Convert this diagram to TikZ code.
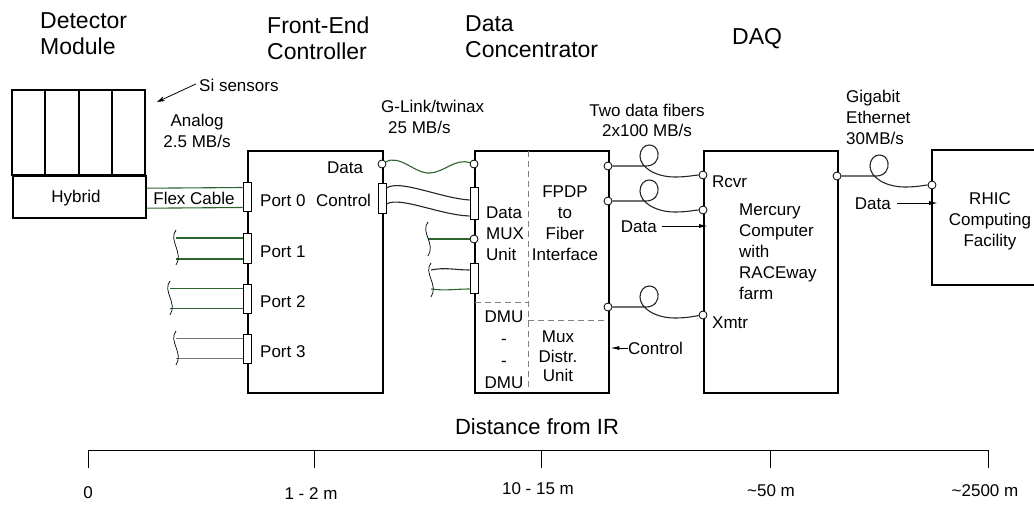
\documentclass[tikz,border=0pt]{standalone}
\usepackage{fontspec}
\setmainfont{Liberation Sans}
\usetikzlibrary{arrows.meta,calc}
\definecolor{wgreen}{RGB}{45,100,45}
\definecolor{wgray}{RGB}{115,115,115}
\newcommand\fsA{\fontsize{23}{26}\selectfont}
\newcommand\fsB{\fontsize{17}{21}\selectfont}
\newcommand\fiberloop[4]{%
  \draw[wire] (#1) -- ({#3+6},#4) .. controls ({#3+15},#4) and ({#3+19},{#4-7}) .. ({#3+18},{#4-13})
    .. controls ({#3+17},{#4-19}) and ({#3+13},{#4-21}) .. ({#3+9},{#4-21})
    .. controls ({#3+4},{#4-21}) and ({#3},{#4-16}) .. ({#3},{#4-10})
    .. controls ({#3},{#4+1}) and ({#3+15},{#4+11}) .. ({#3+35},{#4+11})
    .. controls ({#3+48},{#4+11}) and ({#3+55},{#4+9}) .. (#2);}
\newcommand\squig[3]{%
  \draw[line width=0.7pt] (#1,#2) .. controls +(-8,10) and +(8,-12) .. (#1,#3);}
\begin{document}
\begin{tikzpicture}[x=1pt,y=-1pt,
  box/.style={draw, line width=2.4pt, inner sep=0, anchor=north west},
  jack/.style={circle, draw, fill=white, line width=0.8pt, minimum size=8pt, inner sep=0},
  portrect/.style={rectangle, draw, fill=white, line width=0.9pt, minimum width=8pt, inner sep=0},
  ttl/.style={font=\fsA, inner sep=0, align=left},
  lbl/.style={font=\fsB, inner sep=0},
  wire/.style={line width=1.1pt, black!85},
  arr/.style={line width=0.9pt, -{Latex[length=9pt,width=4pt]}},
  dsh/.style={line width=0.8pt, gray, dash pattern=on 6pt off 4pt}]
\useasboundingbox (0,0) rectangle (1034,504);
\fill[white] (0,0) rectangle (1034,504);

% titles
\node[ttl, anchor=north west] (tdm) at (40,12) {Detector\\Module};
\node[ttl, anchor=north west] (tfec) at (267,17) {Front-End\\Controller};
\node[ttl, anchor=north west] (tdc) at (465,15) {Data\\Concentrator};
\node[ttl, anchor=base west] (tdaq) at (732,44) {DAQ};

% detector module
\draw[line width=1.6pt] (12,90) rectangle (145,175);
\foreach \xx in {45,79,112} \draw[line width=1.6pt] (\xx,90) -- (\xx,175);
\node[box, minimum width=133pt, minimum height=42pt] (hyb) at (12,175) {};
\node[lbl, anchor=base] (hybt) at (76,202) {Hybrid};
\node[lbl, anchor=base west] (si) at (199,91) {Si sensors};
\coordinate (sitip) at (157,102);
\draw[line width=0.8pt, -{Stealth[length=8pt,width=5pt]}] ([xshift=-3pt,yshift=1pt]si.west) -- (sitip);
\node[lbl, anchor=north, align=center] (analog) at (197,114) {Analog\\2.5 MB/s};

% boxes
\node[box, minimum width=135pt, minimum height=242pt] (fec) at (247,150) {};
\node[box, minimum width=134pt, minimum height=242pt] (dc) at (474,150) {};
\node[box, minimum width=134pt, minimum height=242pt] (merc) at (703,150) {};
\node[inner sep=0, minimum width=110pt, minimum height=135pt, anchor=north west] (rhic) at (932,150) {};
\draw[line width=2.4pt] (1040,150) -- (932,150) -- (932,285) -- (1040,285);

% ports
\node[portrect, minimum height=29pt] (p0) at (247,196.5) {};
\node[portrect, minimum height=30pt] (p1) at (247,248) {};
\node[portrect, minimum height=29pt] (p2) at (247,298.5) {};
\node[portrect, minimum height=29pt] (p3) at (247,348.5) {};
\node[portrect, minimum height=30pt] (fecctl) at (382,198) {};
\node[portrect, minimum height=32pt] (dcctl) at (474,203) {};
\node[portrect, minimum height=30pt] (dcp2) at (474,278) {};

% jacks
\node[jack] (fecdata) at (382,164) {};
\node[jack] (dcdata) at (474,164) {};
\node[jack] (dcin) at (474,239) {};
\node[jack] (dco1) at (608,166) {};
\node[jack] (dco2) at (608,201) {};
\node[jack] (dco3) at (608,307) {};
\node[jack] (mi1) at (703,175) {};
\node[jack] (mi2) at (703,210) {};
\node[jack] (mx) at (703,315) {};
\node[jack] (mo) at (837,176) {};
\node[jack] (ri) at (932,185) {};

% flex cable
\draw[wire, wgreen] ([yshift=9pt]hyb.east) -- ([yshift=9pt]p0.west);
\draw[wire, wgreen] ([yshift=-11pt]hyb.east) -- ([yshift=-11pt]p0.west);
\node[lbl, anchor=base] (flex) at (194,204) {Flex Cable};

% port cables
\coordinate (s1) at (176,248);
\coordinate (s2) at (170,298.5);
\coordinate (s3) at (176,348.5);
\draw[wire, wgreen] ([yshift=10pt]s1) -- ([yshift=10pt]p1.west);
\draw[wire, wgreen] ([yshift=-11pt]s1) -- ([yshift=-11pt]p1.west);
\squig{176}{230}{265}
\draw[wire, wgreen] ([yshift=10pt]s2) -- ([yshift=10pt]p2.west);
\draw[wire, wgreen] ([yshift=-10pt]s2) -- ([yshift=-10pt]p2.west);
\squig{170}{281}{315}
\draw[wire, wgray] ([yshift=10pt]s3) -- ([yshift=10pt]p3.west);
\draw[wire, wgray] ([yshift=-10pt]s3) -- ([yshift=-10pt]p3.west);
\squig{176}{331}{365}

% port labels
\node[lbl, anchor=base west] (lp0) at (260,206) {Port 0};
\node[lbl, anchor=base west] (lp1) at (260,257) {Port 1};
\node[lbl, anchor=base west] (lp2) at (260,307) {Port 2};
\node[lbl, anchor=base west] (lp3) at (260,357) {Port 3};
\node[lbl, anchor=base west] (lfd) at (327,173) {Data};
\node[lbl, anchor=base west] (lfc) at (316,206) {Control};

% FEC -> DC
\draw[wire, wgreen] (fecdata) .. controls (400,154) and (415,174) .. (430,173) .. controls (445,172) and (455,158) .. (dcdata);
\draw[wire] ([yshift=10pt]fecctl.east) .. controls (400,179) and (440,198) .. ([yshift=3pt]dcctl.west);
\draw[wire] ([yshift=-6pt]fecctl.east) .. controls (400,196) and (440,215) .. ([yshift=-13pt]dcctl.west);
\node[lbl, anchor=north west, align=left] (glink) at (381,100) {G-Link/twinax\\\hspace*{7pt}25 MB/s};

% DC inputs
\coordinate (s5) at (428,239);
\draw[wire, wgreen] (s5) -- (dcin);
\squig{428}{222}{256}
\coordinate (s6) at (431,278);
\draw[wire] ([yshift=8pt]s6) .. controls +(15,-3) and +(-15,0) .. ([yshift=8pt]dcp2.west);
\draw[wire, wgreen] ([yshift=-11pt]s6) .. controls +(15,2) and +(-15,0) .. ([yshift=-11pt]dcp2.west);
\squig{431}{263}{297}

% DC internals
\draw[dsh] (528,151) -- (528,391);
\draw[dsh] (475,302) -- (528,302);
\draw[dsh] (528,320) -- (607,320);
\node[lbl, anchor=north west, align=left] (dmux) at (486,207) {Data\\MUX\\Unit};
\node[lbl, anchor=north, align=center] (fpdp) at (565,186) {FPDP\\to\\Fiber\\Interface};
\node[lbl, anchor=north, align=center, font=\fontsize{17}{21.7}\selectfont] (dmu) at (504,311) {DMU\\-\\-\\DMU};
\node[lbl, anchor=north, align=center, font=\fontsize{17}{19.5}\selectfont] (mdu) at (558,331) {Mux\\Distr.\\Unit};

% fibers
\fiberloop{dco1}{mi1}{640}{166}
\fiberloop{dco2}{mi2}{640}{201}
\fiberloop{dco3}{mx}{640}{307}
\node[lbl, anchor=north, align=center, font=\fontsize{17}{20}\selectfont] (tdf) at (647,104) {Two data fibers\\2x100 MB/s};
\node[lbl, anchor=base east] (ldata1) at (657,232) {Data};
\draw[arr] ([xshift=5pt,yshift=6pt]ldata1.base east) -- ([xshift=5pt,yshift=6pt]ldata1.base east -| merc.west);
\node[lbl, anchor=base west] (lctl) at (628,354) {Control};
\draw[arr] ([yshift=6pt]lctl.base west) -- ([yshift=6pt]lctl.base west -| dc.east);

% Mercury
\node[lbl, anchor=base west] (rcvr) at (712,187) {Rcvr};
\node[lbl, anchor=north west, align=left, font=\fontsize{17}{20.8}\selectfont] (mtext) at (739,204) {Mercury\\Computer\\with\\RACEway\\farm};
\node[lbl, anchor=base west] (xmtr) at (712,328) {Xmtr};

% Ethernet
\fiberloop{mo}{ri}{870}{176}
\node[lbl, anchor=north west, align=left] (geth) at (846,90) {Gigabit\\Ethernet\\30MB/s};
\node[lbl, anchor=base east] (ldata2) at (891,209) {Data};
\draw[arr] ([xshift=6pt,yshift=6pt]ldata2.base east) -- ([xshift=6pt,yshift=6pt]ldata2.base east -| rhic.west);
\node[lbl, anchor=north, align=center] (rtext) at (990,192) {RHIC\\Computing\\Facility};

% distance axis
\node[anchor=base, inner sep=0, font=\fontsize{22}{26}\selectfont] (dist) at (537,434) {Distance from IR};
\coordinate (a0) at (88,450);
\coordinate (a1) at (314,450);
\coordinate (a2) at (541,450);
\coordinate (a3) at (770,450);
\coordinate (a4) at (988,450);
\draw[line width=1pt] (a0) -- (a4);
\foreach \t in {a0,a1,a2,a3,a4} \draw[line width=1pt] (\t) -- ++(0,18);
\node[lbl, anchor=base] (d0) at (88,498) {0};
\node[lbl, anchor=base] (d1) at (311,499) {1 - 2 m};
\node[lbl, anchor=base] (d2) at (538,494) {10 - 15 m};
\node[lbl, anchor=base] (d3) at (771,496) {\textasciitilde50 m};
\node[lbl, anchor=base] (d4) at (985,496) {\textasciitilde2500 m};
\end{tikzpicture}
\end{document}
